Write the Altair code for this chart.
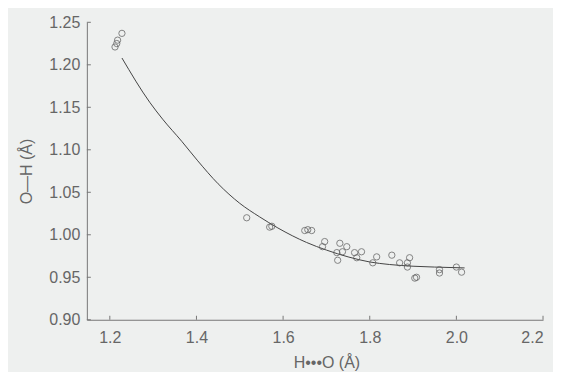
import altair as alt
import pandas as pd

# Scatter data: H...O distance vs O-H distance (Å)
pt_x = [1.216, 1.212, 1.218, 1.228, 1.516, 1.569, 1.574, 1.650, 1.657, 1.666,
        1.691, 1.696, 1.731, 1.724, 1.747, 1.737, 1.765, 1.781, 1.770, 1.726,
        1.807, 1.816, 1.851, 1.869, 1.887, 1.892, 1.887, 1.908, 1.904, 1.961,
        1.961, 2.000, 2.012]
pt_y = [1.225, 1.221, 1.229, 1.237, 1.020, 1.009, 1.010, 1.005, 1.006, 1.005,
        0.986, 0.992, 0.990, 0.979, 0.986, 0.980, 0.979, 0.980, 0.973, 0.970,
        0.967, 0.974, 0.976, 0.967, 0.967, 0.973, 0.962, 0.950, 0.949, 0.959,
        0.955, 0.962, 0.956]

# Fitted curve
fit_x = [1.228, 1.292, 1.322, 1.366, 1.403, 1.450, 1.500, 1.546, 1.588, 1.654,
         1.700, 1.750, 1.800, 1.846, 1.900, 1.950, 2.019]
fit_y = [1.208, 1.156, 1.136, 1.110, 1.087, 1.060, 1.037, 1.021, 1.008, 0.991,
         0.982, 0.974, 0.968, 0.965, 0.963, 0.962, 0.961]

x_ticks = [1.2, 1.4, 1.6, 1.8, 2.0, 2.2]
y_ticks = [0.90, 0.95, 1.00, 1.05, 1.10, 1.15, 1.20, 1.25]

pts = pd.DataFrame({"x": pt_x, "y": pt_y})
fit = pd.DataFrame({"x": fit_x, "y": fit_y})
xt = pd.DataFrame({"v": x_ticks})
yt = pd.DataFrame({"v": y_ticks})

W, H = 457, 298
GREY = "#666666"
AX = "#777777"
FONT = "Liberation Sans"

xscale = alt.Scale(domain=[1.147, 2.2], nice=False, zero=False)
yscale = alt.Scale(domain=[0.90, 1.25], nice=False, zero=False)

xaxis = alt.Axis(values=x_ticks, format=".1f", title="H\u2022\u2022\u2022O (Å)", grid=False,
                 ticks=False, labelPadding=10, titlePadding=9, domainColor=AX,
                 labelColor=GREY, titleColor=GREY, labelFontSize=16, titleFontSize=16,
                 titleFontWeight="normal", labelFont=FONT, titleFont=FONT,
                 titleX=240)
yaxis = alt.Axis(values=y_ticks, format=".2f", title="O\u2014H (Å)", grid=False,
                 ticks=False, labelPadding=7, titlePadding=14, domainColor=AX,
                 labelColor=GREY, titleColor=GREY, labelFontSize=16, titleFontSize=16,
                 titleFontWeight="normal", labelFont=FONT, titleFont=FONT)

line = alt.Chart(fit).mark_line(color="#444444", strokeWidth=1, interpolate="monotone").encode(
    x=alt.X("x:Q", scale=xscale, axis=xaxis),
    y=alt.Y("y:Q", scale=yscale, axis=yaxis),
)
points = alt.Chart(pts).mark_point(shape="circle", filled=False, color="#555555",
                                   size=40, strokeWidth=1).encode(
    x=alt.X("x:Q", scale=xscale),
    y=alt.Y("y:Q", scale=yscale),
)
xticks = alt.Chart(xt).mark_rule(color=AX, strokeWidth=1).encode(
    x=alt.X("v:Q", scale=xscale),
    y=alt.value(H), y2=alt.value(H - 4),
)
yticks = alt.Chart(yt).mark_rule(color=AX, strokeWidth=1).encode(
    y=alt.Y("v:Q", scale=yscale),
    x=alt.value(0), x2=alt.value(4),
)

chart = alt.layer(line, points, xticks, yticks).properties(
    width=W, height=H,
    background="#eef0ef",
    padding={"left": 79, "top": 14, "right": 10, "bottom": 52},
    autosize=alt.AutoSizeParams(type="none"),
).configure_view(stroke=None)

chart.save("out.html", embed_options={"renderer": "svg", "actions": False})
